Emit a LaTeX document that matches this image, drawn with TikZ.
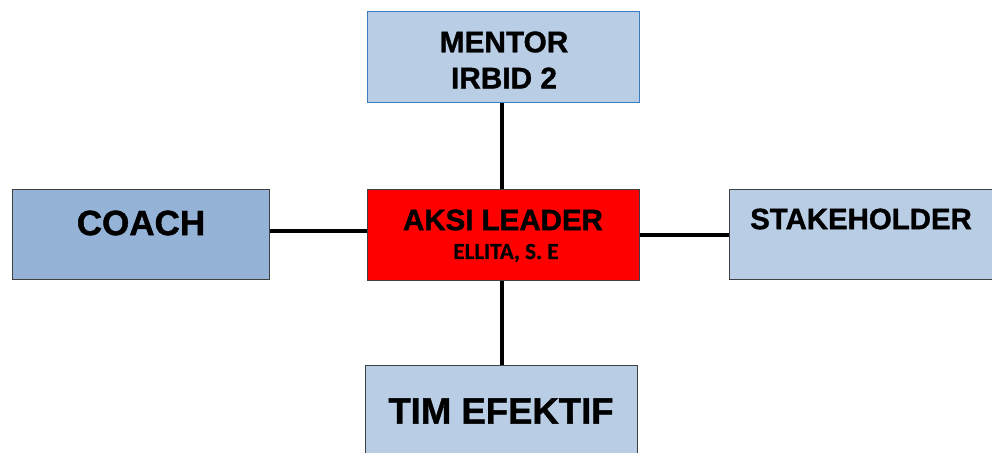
\documentclass[tikz,border=0pt]{standalone}
\usepackage{fontspec}
\setmainfont{Liberation Sans}
\newfontfamily\heavy{Liberation Sans Bold}[FakeBold=1.2]
\newfontfamily\carlito{Carlito Bold}[FakeBold=0.8]
\usetikzlibrary{backgrounds}
\definecolor{paleblue}{HTML}{B9CDE5}
\definecolor{midblue}{HTML}{95B3D7}
\definecolor{frameblue}{HTML}{3C7DC0}
\definecolor{framegray}{HTML}{404040}
\tikzset{
  box/.style={draw=framegray, line width=1pt, fill=paleblue, inner sep=0pt, anchor=north west},
  caption/.style={text=black, inner sep=0pt},
  link/.style={line width=4.8pt, black}
}
\begin{document}
\begin{tikzpicture}[x=1pt, y=-1pt]
\clip (0,0) rectangle (992,452);
% boxes
\node[box, draw=frameblue, minimum width=272pt, minimum height=91pt] (mentor) at (367,11) {};
\node[box, fill=red, minimum width=272pt, minimum height=91pt] (leader) at (367,189) {};
\node[box, fill=midblue, minimum width=257pt, minimum height=90pt] (coach) at (12,189) {};
\node[box, minimum width=300pt, minimum height=90pt] (stake) at (729,189) {};
\node[box, minimum width=272pt, minimum height=100pt] (tim) at (365,365) {};
% connectors, kept behind the boxes
\begin{scope}[on background layer]
\fill[white] (0,0) rectangle (992,452);
\draw[link] (mentor.south -| 502,0) -- (leader.north -| 502,0);
\draw[link] (leader.south -| 502,0) -- (tim.north -| 502,0);
\draw[link] (coach.east |- 0,231) -- (leader.west |- 0,231);
\draw[link] (leader.east |- 0,235) -- (stake.west |- 0,235);
\end{scope}
% labels
\node[caption, font=\heavy\fontsize{29.8}{32}\selectfont] (tmentor) at (504,42) {MENTOR};
\node[caption, font=\heavy\fontsize{29.8}{32}\selectfont] (tirbid) at (504,78) {IRBID 2};
\node[caption, font=\heavy\fontsize{29.5}{32}\selectfont] (taksi) at (503,220) {AKSI LEADER};
\node[caption, font=\carlito\fontsize{23}{26}\selectfont] (tellita) at (506,253) {ELLITA, S. E};
\node[caption, font=\heavy\fontsize{35}{38}\selectfont] (tcoach) at (141,223) {COACH};
\node[caption, font=\heavy\fontsize{29.4}{32}\selectfont] (tstake) at (861,219) {STAKEHOLDER};
\node[caption, font=\heavy\fontsize{36.5}{39}\selectfont] (ttim) at (501,411) {TIM EFEKTIF};
\end{tikzpicture}
\end{document}
